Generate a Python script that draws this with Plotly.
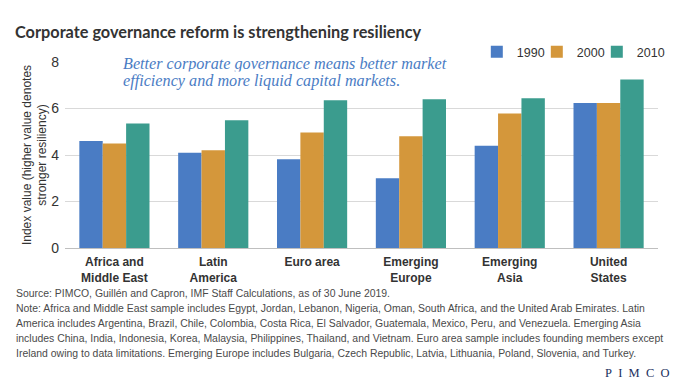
import plotly.graph_objects as go

categories = ["Africa and<br>Middle East", "Latin<br>America", "Euro area", "Emerging<br>Europe", "Emerging<br>Asia", "United<br>States"]
v1990 = [4.6, 4.1, 3.82, 3.0, 4.4, 6.24]
v2000 = [4.5, 4.2, 4.97, 4.81, 5.78, 6.24]
v2010 = [5.35, 5.5, 6.36, 6.4, 6.44, 7.25]
series_names = ["1990", "2000", "2010"]
colors = ["#4a7cc4", "#d4973b", "#3b9c8e"]
y_ticks = [0, 2, 4, 6, 8]
callout_lines = ["Better corporate governance means better market\u2002",
                 "efficiency and more liquid capital markets."]
footer_lines = [
    "Source: PIMCO, Guillén and Capron, IMF Staff Calculations, as of 30 June 2019.",
    "Note: Africa and Middle East sample includes Egypt, Jordan, Lebanon, Nigeria, Oman, South Africa, and the United Arab Emirates. Latin",
    "America includes Argentina, Brazil, Chile, Colombia, Costa Rica, El Salvador, Guatemala, Mexico, Peru, and Venezuela. Emerging Asia",
    "includes China, India, Indonesia, Korea, Malaysia, Philippines, Thailand, and Vietnam. Euro area sample includes founding members except",
    "Ireland owing to data limitations. Emerging Europe includes Bulgaria, Czech Republic, Latvia, Lithuania, Poland, Slovenia, and Turkey.",
]

SANS = "Liberation Sans, Arial, sans-serif"
OFF = 8  # page body margin of the viewer
W, H = 680 - OFF, 383 - OFF
# plot area in reference pixel coordinates
PL, PR, PT, PB = 64.5, 658.5, 62, 248
L, R, T, B = PL - OFF, W - (PR - OFF), PT - OFF, H - (PB - OFF)
PW, PH = PR - PL, PB - PT


def px(x):
    return (x - PL) / PW


def py(y):
    return (PB - y) / PH


fig = go.Figure()
legend_widths = [15, 15, 32]
for name, vals, c, lw in zip(series_names, [v1990, v2000, v2010], colors, legend_widths):
    fig.add_trace(go.Bar(x=categories, y=vals, name=name, legendwidth=lw,
                         marker=dict(color=c, line=dict(width=0))))

fig.update_layout(
    width=W, height=H,
    margin=dict(l=L, r=R, t=T, b=B, pad=0, autoexpand=False),
    paper_bgcolor="white", plot_bgcolor="white",
    barmode="group", bargap=0.29, bargroupgap=0,
    font=dict(family=SANS, color="#333333", size=13),
    title=dict(text="Corporate governance reform is strengthening resiliency",
               x=(15 - OFF) / W, xanchor="left", xref="container",
               y=1 - (32 - OFF) / H, yanchor="middle", yref="container",
               font=dict(family="Lato, Liberation Sans, sans-serif", size=16.3, color="#333333", weight="bold")),
    legend=dict(orientation="h", x=px(477), xanchor="left", y=py(52), yanchor="middle",
                itemwidth=30, font=dict(size=12.5, color="#333333"), bgcolor="rgba(0,0,0,0)",
                tracegroupgap=0, itemclick=False),
    showlegend=True,
)
fig.update_xaxes(showgrid=False, showline=False, ticks="", automargin=False, ticklabelstandoff=5,
                 tickfont=dict(family=SANS, size=12, color="#333333", weight="bold"))
fig.update_yaxes(range=[0, 8], tickvals=y_ticks, showgrid=True, gridcolor="#d9d9d9", gridwidth=1,
                 zeroline=True, zerolinecolor="#bfbfbf", zerolinewidth=1, showline=False, ticks="",
                 ticklabelstandoff=5, automargin=False,
                 tickfont=dict(family=SANS, size=14, color="#333333"),
                 title=dict(text="Index value (higher value denotes<br>stronger resiliency)",
                            font=dict(family=SANS, size=12, color="#333333"), standoff=1))

for line, yy in zip(callout_lines, [64, 81]):
    fig.add_annotation(text=line, xref="paper", yref="paper", x=px(122), xanchor="left",
                       y=py(yy), yanchor="middle", align="left", showarrow=False,
                       bgcolor="white", borderpad=0,
                       font=dict(family="Liberation Serif, DejaVu Serif, serif", size=16.2,
                                 color="#4a7cc4", style="italic"))

for line, yy in zip(footer_lines, [293, 308, 323, 338, 353]):
    fig.add_annotation(text=line, xref="paper", yref="paper", x=px(13), xanchor="left",
                       y=py(yy), yanchor="middle", align="left", showarrow=False,
                       font=dict(family=SANS, size=10.45, color="#4a4a4a"))

fig.add_annotation(text="P\u2002I\u2002M\u2002C\u2002O", xref="paper", yref="paper",
                   x=px(673), xanchor="right",
                   y=py(373), yanchor="middle", showarrow=False,
                   font=dict(family="Liberation Serif, serif", size=12.5, color="#1b2f5e"))

fig.write_html("out.html")
